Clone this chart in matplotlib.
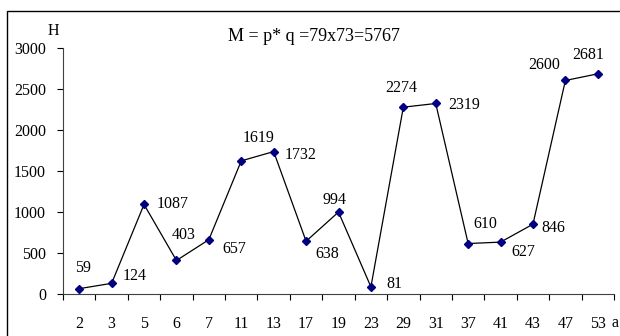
import matplotlib.pyplot as plt
from matplotlib.patches import Rectangle
import numpy as np

# dados
categorias = ["2", "3", "5", "6", "7", "11", "13", "17", "19", "23",
              "29", "31", "37", "41", "43", "47", "53"]
valores = [59, 124, 1087, 403, 657, 1619, 1732, 638, 994, 81,
           2274, 2319, 610, 627, 846, 2600, 2681]
titulo = "M = p* q =79x73=5767"

# deslocamento dos rótulos (pixels, centro do texto)
offsets = [(4, 21), (23, 7), (29, 0), (7, 25), (25, -9), (17, 23),
           (27, -3), (21, -13), (-4, 12), (23, 3), (-2, 19), (28, -2),
           (17, 20), (23, -10), (20, -4), (-21, 15), (-10, 19)]

plt.rcParams["font.family"] = ["Liberation Serif", "DejaVu Serif"]
FS = 11.5

W, H = 620, 336
fig = plt.figure(figsize=(W / 100, H / 100), dpi=100)

# moldura externa (estilo Excel)
fig.patches.append(Rectangle((7 / W, -0.1), 1.2, 1 - 11 / H + 0.1,
                             transform=fig.transFigure, fill=False,
                             edgecolor="black", linewidth=1.0))

ax = fig.add_axes([63 / W, 42.5 / H, (614 - 63) / W, (288.3 - 42.5) / H])

x = np.arange(len(categorias))
ax.plot(x, valores, color="black", linewidth=0.9, marker="D",
        markersize=3.8, markerfacecolor="#000080", markeredgecolor="#000080",
        zorder=3)

for xi, v, (dx, dy) in zip(x, valores, offsets):
    ax.annotate(str(v), (xi, v), xytext=(dx, dy), textcoords="offset pixels",
                ha="center", va="center", fontsize=FS)

ax.set_xlim(-0.5, len(categorias) - 0.5)
ax.set_ylim(0, 3000)
ax.set_yticks([0, 500, 1000, 1500, 2000, 2500, 3000])

ax.set_xticks(np.arange(len(categorias) + 1) - 0.5)
ax.set_xticklabels([])
ax.set_xticks(x, minor=True)
ax.set_xticklabels(categorias, minor=True, fontsize=FS)
ax.tick_params(axis="x", which="major", direction="out", length=4.3, width=0.8)
ax.tick_params(axis="x", which="minor", length=0, pad=16)
ax.tick_params(axis="y", direction="out", length=4.3, width=0.8, pad=8,
               labelsize=FS)

for s in ["top", "right"]:
    ax.spines[s].set_visible(False)
for s in ["left", "bottom"]:
    ax.spines[s].set_linewidth(0.8)
    ax.spines[s].set_color("#404040")

fig.text(53 / W, 1 - 30.7 / H, "H", ha="center", va="center", fontsize=FS)
fig.text(611 / W, 1 - 323 / H, "a", ha="left", va="center", fontsize=FS)
fig.text(314 / W, 1 - 36.7 / H, titulo, ha="center", va="center", fontsize=13)

fig.savefig("out.png", dpi=100)
